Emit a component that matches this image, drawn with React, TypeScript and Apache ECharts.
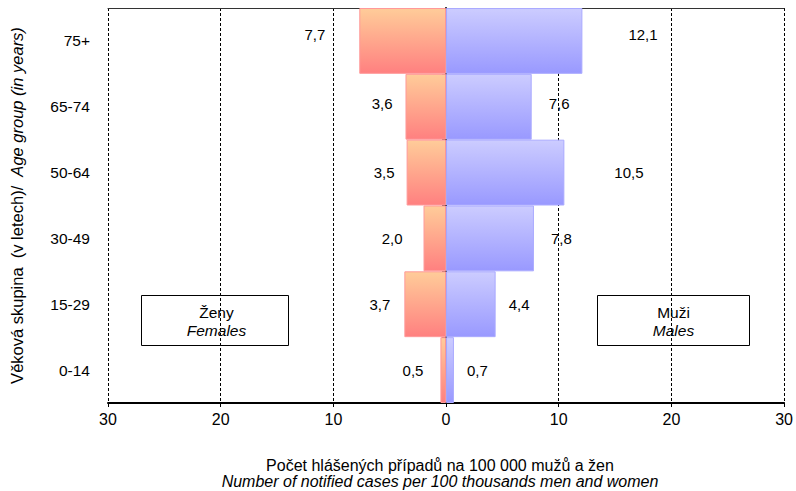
import React, { useEffect, useRef } from "react";
import * as echarts from "echarts";

const categories = ["0-14", "15-29", "30-49", "50-64", "65-74", "75+"];
const females = [0.5, 3.7, 2.0, 3.5, 3.6, 7.7];
const males = [0.7, 4.4, 7.8, 10.5, 7.6, 12.1];
const xTicks = [-30, -20, -10, 0, 10, 20, 30];

// label gaps and vertical nudges (style only)
const femaleGap = [17, 14, 21, 12, 13, 34];
const maleGap = [13, 13, 17, 50, 17, 46];
const labelLift = [0, 0, 0, 0, -3, -6];

const FONT = "'Liberation Sans', Arial, sans-serif";

const fmt = (v: number) => Math.abs(v).toFixed(1).replace(".", ",");

export default function App() {
  const ref = useRef<HTMLDivElement>(null);
  useEffect(() => {
    if (!ref.current) return;
    const chart = echarts.init(ref.current, null, { renderer: "svg" });
    const femaleGrad = new echarts.graphic.LinearGradient(0, 0, 0, 1, [
      { offset: 0, color: "#FFCC99" },
      { offset: 1, color: "#FF8080" },
    ]);
    const maleGrad = new echarts.graphic.LinearGradient(0, 0, 0, 1, [
      { offset: 0, color: "#CCCCFF" },
      { offset: 1, color: "#9999FF" },
    ]);
    chart.setOption({
      animation: false,
      textStyle: { fontFamily: FONT },
      grid: { left: 103, right: 9, top: 8, bottom: 88, containLabel: false },
      xAxis: [
        {
          type: "value",
          min: xTicks[0],
          max: xTicks[xTicks.length - 1],
          interval: 10,
          position: "bottom",
          axisLine: { show: true, onZero: false, lineStyle: { color: "#000", width: 2 } },
          axisTick: { show: true, length: 4, lineStyle: { color: "#000" } },
          axisLabel: {
            color: "#000",
            fontSize: 16,
            margin: 8,
            formatter: (v: number) => String(Math.abs(v)),
          },
          splitLine: { show: true, lineStyle: { color: "#000", type: [3, 2], width: 1 } },
        },
        {
          type: "value",
          min: xTicks[0],
          max: xTicks[xTicks.length - 1],
          interval: 10,
          position: "top",
          axisLine: { show: true, onZero: false, lineStyle: { color: "#333", width: 1 } },
          axisTick: { show: false },
          axisLabel: { show: false },
          splitLine: { show: false },
        },
      ],
      yAxis: [
        {
          type: "category",
          data: categories,
          position: "left",
          axisLine: { show: false, onZero: false },
          axisTick: { show: false },
          axisLabel: { color: "#000", fontSize: 15.5, margin: 18 },
          name: "{a|Věková skupina  (v letech)/  }{b|Age group (in years)}",
          nameLocation: "middle",
          nameRotate: 90,
          nameGap: 83,
          nameTextStyle: {
            rich: {
              a: { fontSize: 16.5, color: "#000", fontFamily: FONT },
              b: { fontSize: 16.5, color: "#000", fontStyle: "italic", fontFamily: FONT },
            },
          },
        },
        {
          type: "category",
          data: categories,
          position: "right",
          axisLine: { show: true, onZero: true, lineStyle: { color: "#000", width: 2 } },
          axisTick: { show: true, inside: true, length: 4, lineStyle: { color: "#000", width: 1 } },
          axisLabel: { show: false },
          splitLine: { show: false },
        },
      ],
      series: [
        {
          name: "Ženy",
          type: "bar",
          stack: "total",
          yAxisIndex: 0,
          barCategoryGap: 0,
          itemStyle: { color: femaleGrad, borderColor: "#FF9999", borderWidth: 1 },
          data: females.map((v, i) => ({
            value: -v,
            label: { distance: femaleGap[i], offset: [0, labelLift[i]] },
          })),
          label: {
            show: true,
            position: "left",
            color: "#000",
            fontSize: 15,
            fontFamily: FONT,
            formatter: (p: any) => fmt(p.value),
          },
        },
        {
          name: "Muži",
          type: "bar",
          stack: "total",
          yAxisIndex: 0,
          barCategoryGap: 0,
          itemStyle: { color: maleGrad, borderColor: "#AAAAFF", borderWidth: 1 },
          data: males.map((v, i) => ({
            value: v,
            label: { distance: maleGap[i], offset: [0, labelLift[i]] },
          })),
          label: {
            show: true,
            position: "right",
            color: "#000",
            fontSize: 15,
            fontFamily: FONT,
            formatter: (p: any) => fmt(p.value),
          },
        },
      ],
      graphic: [
        {
          type: "group",
          left: 141,
          top: 295,
          children: [
            { type: "rect", shape: { x: 0, y: 0, width: 147, height: 50 }, style: { fill: "#fff", stroke: "#000", lineWidth: 1 } },
            { type: "text", x: 75, y: 17, style: { text: "Ženy", fill: "#000", font: `15.5px ${FONT}`, textAlign: "center", textVerticalAlign: "middle" } },
            { type: "text", x: 75, y: 35, style: { text: "Females", fill: "#000", font: `italic 15.5px ${FONT}`, textAlign: "center", textVerticalAlign: "middle" } },
          ],
        },
        {
          type: "group",
          left: 597,
          top: 295,
          children: [
            { type: "rect", shape: { x: 0, y: 0, width: 152, height: 50 }, style: { fill: "#fff", stroke: "#000", lineWidth: 1 } },
            { type: "text", x: 76, y: 17, style: { text: "Muži", fill: "#000", font: `15.5px ${FONT}`, textAlign: "center", textVerticalAlign: "middle" } },
            { type: "text", x: 76, y: 35, style: { text: "Males", fill: "#000", font: `italic 15.5px ${FONT}`, textAlign: "center", textVerticalAlign: "middle" } },
          ],
        },
        {
          type: "text",
          x: 440,
          y: 465,
          style: { text: "Počet hlášených případů na 100 000 mužů a žen", fill: "#000", font: `16px ${FONT}`, textAlign: "center", textVerticalAlign: "middle" },
        },
        {
          type: "text",
          x: 440,
          y: 481,
          style: { text: "Number of notified cases per 100 thousands men and women", fill: "#000", font: `italic 16px ${FONT}`, textAlign: "center", textVerticalAlign: "middle" },
        },
      ],
    });
    return () => chart.dispose();
  }, []);
  return <div ref={ref} style={{ width: 796, height: 491, position: "absolute", left: 0, top: 0 }} />;
}
